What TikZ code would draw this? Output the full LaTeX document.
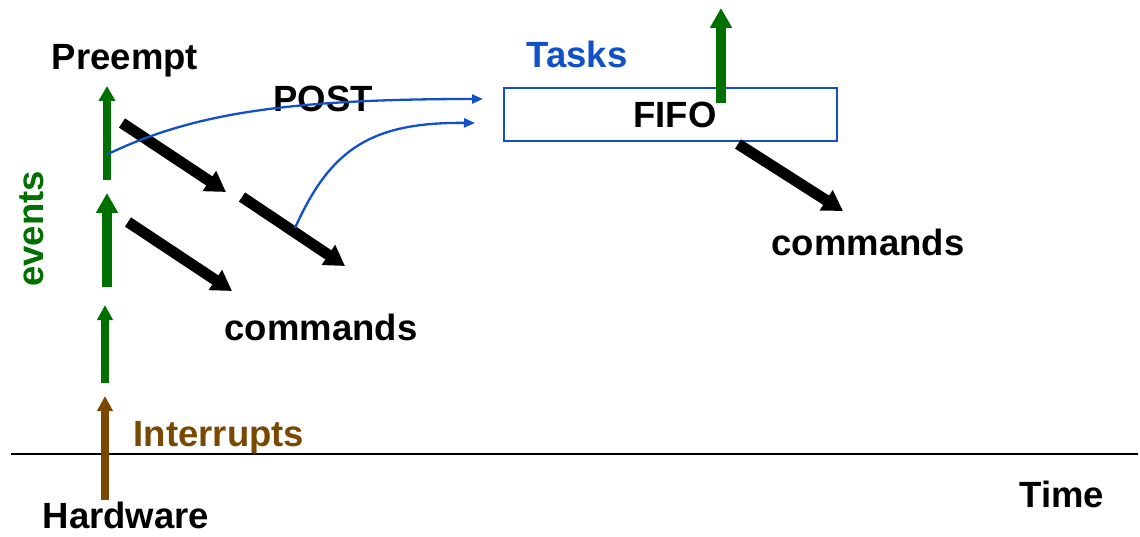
\documentclass[tikz,border=0pt]{standalone}
\usepackage{fontspec}
\setmainfont{Liberation Sans}
\usetikzlibrary{arrows.meta}
\definecolor{evgreen}{RGB}{0,112,0}
\definecolor{irqbrown}{RGB}{122,72,0}
\definecolor{taskblue}{RGB}{16,80,200}
\begin{document}
\begin{tikzpicture}[x=1pt,y=-1pt,
  lbl/.style={font=\fontsize{36.5}{40}\selectfont\bfseries, inner sep=0pt, anchor=base},
  cmdarrow/.style={line width=11pt, -{Triangle[width=23pt,length=20pt]}},
  evthin/.style={evgreen, line width=7.5pt, -{Triangle[width=15pt,length=15pt]}},
  evmid/.style={evgreen, line width=8.5pt, -{Triangle[width=16pt,length=15pt]}},
  evthick/.style={evgreen, line width=10.5pt, -{Triangle[width=21pt,length=20pt]}},
  irqarrow/.style={irqbrown, line width=8.5pt, -{Triangle[width=15pt,length=15pt]}},
  postarrow/.style={taskblue, line width=2.3pt, -{Triangle[width=9pt,length=11pt]}}
]
\useasboundingbox (0,0) rectangle (1140,537);

% time axis
\coordinate (axisL) at (11,454);
\coordinate (axisR) at (1138,454);
\draw[line width=2pt] (axisL) -- (axisR);

% labels
\node[lbl] (preempt) at (125,70) {Preempt};
\node[lbl] (post) at (323,112) {POST};
\node[lbl, text=taskblue] (tasks) at (577,68) {Tasks};
\node[lbl] (cmdL) at (321,340) {commands};
\node[lbl] (cmdR) at (868,256) {commands};
\node[lbl, text=irqbrown] (irq) at (219,446) {Interrupts};
\node[lbl] (hw) at (126,528) {Hardware};
\node[lbl] (time) at (1062,507) {Time};
\node[lbl, text=evgreen, rotate=90] (events) at (43,229) {events};

% task queue
\node[draw=taskblue, line width=2pt, minimum width=333pt, minimum height=53pt,
      inner sep=0pt] (fifo) at (670.5,114.5) {};
\node[lbl] (fifotxt) at (675,128) {FIFO};

% interrupt and event arrows
\coordinate (irqS) at (105,500); \coordinate (irqE) at (105,396);
\draw[irqarrow] (irqS) -- (irqE);
\coordinate (ev1S) at (105,383); \coordinate (ev1E) at (105,305);
\draw[evthin] (ev1S) -- (ev1E);
\coordinate (ev2S) at (107,287); \coordinate (ev2E) at (107,193);
\draw[evthick] (ev2S) -- (ev2E);
\coordinate (ev3S) at (107,180); \coordinate (ev3E) at (107,86);
\draw[evmid] (ev3S) -- (ev3E);
\coordinate (ev4S) at (721,103); \coordinate (ev4E) at (721,8);
\draw[evthick] (ev4S) -- (ev4E);

% command arrows
\coordinate (c1S) at (122,123); \coordinate (c1E) at (226,192);
\draw[cmdarrow] (c1S) -- (c1E);
\coordinate (c2S) at (242,197); \coordinate (c2E) at (345,266);
\draw[cmdarrow] (c2S) -- (c2E);
\coordinate (c3S) at (128,222); \coordinate (c3E) at (232,291);
\draw[cmdarrow] (c3S) -- (c3E);
\coordinate (c4S) at (738,144); \coordinate (c4E) at (843,211);
\draw[cmdarrow] (c4S) -- (c4E);

% posting tasks
\coordinate (p1S) at (108,154); \coordinate (p1E) at (483,99);
\draw[postarrow] (p1S) .. controls (190,115) and (280,99) .. (p1E);
\coordinate (p2S) at (295,228); \coordinate (p2E) at (475,123);
\draw[postarrow] (p2S) .. controls (330,150) and (370,122) .. (p2E);
\end{tikzpicture}
\end{document}
